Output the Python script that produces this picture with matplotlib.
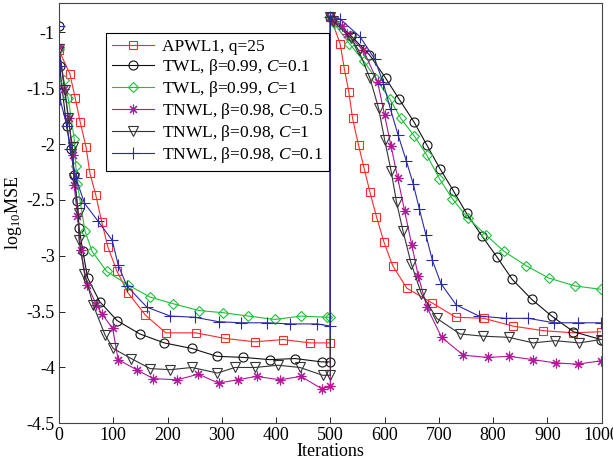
import numpy as np
import matplotlib
matplotlib.use('Agg')
import matplotlib.pyplot as plt

plt.rcParams.update({
    'font.family': 'Liberation Serif',
    'mathtext.fontset': 'custom',
    'mathtext.rm': 'Liberation Serif',
    'mathtext.it': 'Liberation Serif:italic',
    'axes.unicode_minus': False,
    'font.size': 13,
})

# APWL1, q=25
apwl_x1 = [0, 20, 30, 39, 50, 57, 68, 79, 90, 107, 127, 159, 197, 252, 306, 361, 413, 463, 500]
apwl_y1 = [-1.16, -1.37, -1.59, -1.80, -2.03, -2.26, -2.46, -2.70, -2.92, -3.14, -3.33, -3.53,
           -3.69, -3.69, -3.74, -3.77, -3.75, -3.78, -3.78]
apwl_x2 = [500, 518, 526, 534, 541, 552, 562, 573, 585, 599, 615, 641, 687, 731, 783, 837, 892, 948, 998]
apwl_y2 = [-0.86, -1.10, -1.33, -1.53, -1.77, -2.01, -2.21, -2.43, -2.65, -2.88, -3.09, -3.29,
           -3.42, -3.55, -3.56, -3.63, -3.67, -3.69, -3.68]

# TWL, beta=0.99, C=0.1
twl1_x1 = [0, 1, 14, 22, 28, 33, 37, 44, 53, 75, 107, 149, 194, 245, 291, 340, 389, 435, 484, 500]
twl1_y1 = [-0.94, -1.30, -1.84, -2.04, -2.28, -2.51, -2.75, -2.96, -3.20, -3.41, -3.58, -3.70,
           -3.78, -3.83, -3.90, -3.91, -3.93, -3.92, -3.95, -3.95]
twl1_x2 = [500, 538, 572, 602, 627, 654, 678, 702, 727, 751, 779, 807, 835, 871, 908, 948, 999]
twl1_y2 = [-0.86, -1.03, -1.20, -1.41, -1.60, -1.80, -2.01, -2.22, -2.42, -2.62, -2.82, -3.01,
           -3.21, -3.39, -3.54, -3.68, -3.75]

# TWL, beta=0.99, C=1
twl2_x1 = [0, 9, 17, 28, 31, 34, 48, 61, 88, 127, 168, 211, 258, 303, 349, 398, 446, 493, 500]
twl2_y1 = [-1.15, -1.43, -1.59, -1.95, -2.20, -2.36, -2.78, -2.96, -3.14, -3.26, -3.37, -3.43,
           -3.49, -3.51, -3.54, -3.57, -3.54, -3.55, -3.55]
twl2_x2 = [500, 507, 535, 562, 585, 610, 630, 655, 678, 701, 725, 753, 786, 820, 861, 903, 951, 998]
twl2_y2 = [-0.86, -0.92, -1.10, -1.26, -1.42, -1.60, -1.77, -1.93, -2.10, -2.31, -2.49, -2.66,
           -2.81, -2.96, -3.09, -3.20, -3.27, -3.30]

# TNWL, beta=0.98, C=0.5
tn05_x1 = [0, 10, 18, 25, 28, 34, 40, 52, 69, 79, 99, 109, 143, 174, 218, 257, 294, 329, 364,
           407, 446, 484, 500]
tn05_y1 = [-1.13, -1.51, -1.77, -2.10, -2.37, -2.64, -2.95, -3.26, -3.44, -3.52, -3.65, -3.93,
           -4.02, -4.10, -4.11, -4.06, -4.14, -4.11, -4.08, -4.11, -4.08, -4.19, -4.17]
tn05_x2 = [500, 506, 521, 530, 561, 587, 600, 612, 624, 637, 650, 662, 678, 705, 745, 790, 829,
           874, 916, 956, 999]
tn05_y2 = [-0.86, -0.90, -0.94, -1.01, -1.16, -1.44, -1.74, -2.02, -2.30, -2.60, -2.90, -3.18,
           -3.46, -3.73, -3.89, -3.91, -3.90, -3.93, -3.96, -3.97, -3.94]

# TNWL, beta=0.98, C=1
tn1_x1 = [0, 11, 17, 25, 28, 36, 37, 47, 63, 85, 100, 133, 168, 205, 245, 292, 324, 361, 404,
          444, 486, 500]
tn1_y1 = [-1.15, -1.52, -1.77, -2.03, -2.30, -2.62, -2.86, -3.16, -3.44, -3.71, -3.83, -3.92,
          -4.01, -4.02, -4.00, -4.05, -4.00, -4.00, -3.98, -4.00, -4.07, -4.07]
tn1_x2 = [500, 505, 538, 552, 573, 589, 600, 612, 622, 634, 649, 668, 696, 739, 782, 829, 874,
          914, 959, 998]
tn1_y2 = [-0.86, -0.90, -1.05, -1.16, -1.41, -1.68, -1.96, -2.24, -2.52, -2.78, -3.07, -3.34,
          -3.56, -3.70, -3.72, -3.73, -3.78, -3.76, -3.78, -3.75]

# TNWL, beta=0.98, C=0.1
tn01_x1 = [0, 1, 2, 15, 20, 31, 47, 72, 98, 109, 125, 162, 205, 250, 294, 336, 383, 426, 476, 500]
tn01_y1 = [-0.94, -1.30, -1.60, -1.84, -2.04, -2.30, -2.53, -2.69, -2.86, -3.08, -3.27, -3.46,
           -3.54, -3.55, -3.59, -3.60, -3.60, -3.61, -3.61, -3.63]
tn01_x2 = [500, 518, 555, 582, 598, 611, 625, 640, 653, 664, 676, 688, 704, 732, 774, 823, 865,
           912, 957, 999]
tn01_y2 = [-0.86, -0.88, -1.04, -1.24, -1.46, -1.69, -1.92, -2.15, -2.36, -2.58, -2.81, -3.04,
           -3.25, -3.44, -3.54, -3.56, -3.56, -3.60, -3.60, -3.60]

asterisk = (8, 2, 0)
series = [
    ('APWL1, q=25', apwl_x1 + apwl_x2, apwl_y1 + apwl_y2, '#ff2a2a', 's', 6),
    (r'TWL, β=0.99, $C$=0.1', twl1_x1 + twl1_x2, twl1_y1 + twl1_y2, '#111111', 'o', 6.5),
    (r'TWL, β=0.99, $C$=1', twl2_x1 + twl2_x2, twl2_y1 + twl2_y2, '#1fbf3a', 'D', 5.5),
    (r'TNWL, β=0.98, $C$=0.5', tn05_x1 + tn05_x2, tn05_y1 + tn05_y2, '#b01899', asterisk, 7),
    (r'TNWL, β=0.98, $C$=1', tn1_x1 + tn1_x2, tn1_y1 + tn1_y2, '#333333', 'v', 6.5),
    (r'TNWL, β=0.98, $C$=0.1', tn01_x1 + tn01_x2, tn01_y1 + tn01_y2, '#2a2aa8', '+', 8),
]

fig = plt.figure(figsize=(6.13, 4.63), dpi=100)
ax = fig.add_axes([0.0962, 0.0857, 0.8853, 0.9085])

for label, x, y, c, m, ms in series:
    ax.plot(x, y, color=c, lw=0.8, marker=m, ms=ms, mfc='none', mec=c, mew=0.8, label=label)

ax.set_xlim(0, 1000)
ax.set_ylim(-4.5, -0.734)
ax.set_xticks(np.arange(0, 1001, 100))
ax.set_yticks(np.arange(-4.5, -0.99, 0.5))
ax.set_yticklabels(['-4.5', '-4', '-3.5', '-3', '-2.5', '-2', '-1.5', '-1'])
ax.tick_params(direction='in', length=4, width=0.6, labelsize=13, pad=3)
for s in ax.spines.values():
    s.set_linewidth(0.8)
    s.set_color('#444444')

ax.set_xlabel('Iterations', fontsize=13, labelpad=-1)
ax.set_ylabel(r'log$_{10}$MSE', fontsize=13, labelpad=2)

leg = ax.legend(loc='upper left', bbox_to_anchor=(0.0866, 0.9287), borderaxespad=0,
                fontsize=12.5, fancybox=False, edgecolor='black', framealpha=1,
                handlelength=2.4, labelspacing=0.12, borderpad=0.35, handletextpad=0.5)
leg.get_frame().set_linewidth(0.8)

fig.savefig('out.png', dpi=100)
